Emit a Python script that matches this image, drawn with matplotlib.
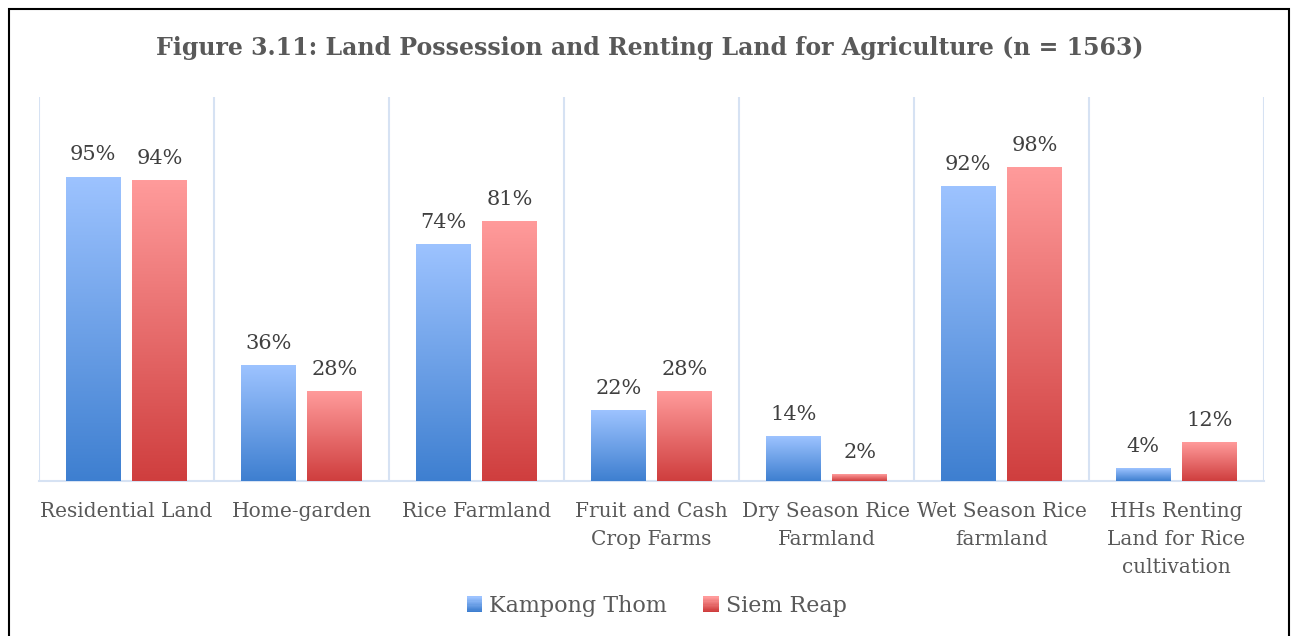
import numpy as np
import matplotlib.pyplot as plt
from matplotlib.patches import Rectangle
from matplotlib.legend_handler import HandlerBase
from matplotlib.colors import LinearSegmentedColormap

categories = ["Residential Land", "Home-garden", "Rice Farmland",
              "Fruit and Cash\nCrop Farms", "Dry Season Rice\nFarmland",
              "Wet Season Rice\nfarmland", "HHs Renting\nLand for Rice\ncultivation"]
kampong_thom = [0.95, 0.36, 0.74, 0.22, 0.14, 0.92, 0.04]
siem_reap = [0.94, 0.28, 0.81, 0.28, 0.02, 0.98, 0.12]
series_names = ["Kampong Thom", "Siem Reap"]

# top colour -> bottom colour
blue_grad = ("#9dc3ff", "#3e7fd0")
red_grad = ("#ff9b9b", "#cf3e3e")

FONT = "DejaVu Serif"
TEXT = "#404040"
GRID = "#d6e2f3"


def gradient_bar(ax, rect, colors):
    cmap = LinearSegmentedColormap.from_list("g", [colors[1], colors[0]])
    x, y = rect.get_x(), rect.get_y()
    w, h = rect.get_width(), rect.get_height()
    grad = np.linspace(0, 1, 256).reshape(-1, 1)
    ax.imshow(grad, cmap=cmap, origin="lower", aspect="auto",
              extent=(x, x + w, y, y + h), zorder=3)
    rect.set_visible(False)


class GradientHandler(HandlerBase):
    def __init__(self, colors):
        super().__init__()
        self.colors = colors

    def create_artists(self, legend, orig_handle, xdescent, ydescent,
                       width, height, fontsize, trans):
        cmap = LinearSegmentedColormap.from_list("g", [self.colors[1], self.colors[0]])
        side = height * 1.0
        x0 = -xdescent + width - side
        y0 = -ydescent
        n = 12
        arts = []
        for i in range(n):
            r = Rectangle((x0, y0 + side * i / n), side, side / n + 0.3,
                          facecolor=cmap(i / (n - 1)), edgecolor="none",
                          transform=trans)
            arts.append(r)
        return arts


fig = plt.figure(figsize=(12.93, 6.36), dpi=100)
ax = fig.add_axes([39 / 1293, 155 / 636, 1225 / 1293, 384 / 636])

x = np.arange(len(categories))
width = 0.314
offset = 0.19
bars1 = ax.bar(x - offset, kampong_thom, width, zorder=3)
bars2 = ax.bar(x + offset, siem_reap, width, zorder=3)
for r in bars1:
    gradient_bar(ax, r, blue_grad)
for r in bars2:
    gradient_bar(ax, r, red_grad)

for bars, vals in ((bars1, kampong_thom), (bars2, siem_reap)):
    for r, v in zip(bars, vals):
        ax.annotate(f"{v * 100:.0f}%", (r.get_x() + r.get_width() / 2, v),
                    xytext=(0, 9), textcoords="offset points",
                    ha="center", va="bottom", fontsize=15, family=FONT,
                    color=TEXT)

ax.set_xlim(-0.5, len(categories) - 0.5)
ax.set_ylim(0, 1.2)
ax.set_yticks([])
ax.set_xticks(x)
ax.set_xticklabels(categories, fontsize=14.5, family=FONT, color="#595959",
                   linespacing=1.6)
ax.tick_params(axis="x", length=0, pad=15)

# category separators
for b in np.arange(-0.5, len(categories), 1.0):
    ax.axvline(b, color=GRID, lw=1.5, zorder=1)
for s in ("top", "right", "left"):
    ax.spines[s].set_visible(False)
ax.spines["bottom"].set_color(GRID)
ax.spines["bottom"].set_linewidth(1.5)

fig.text(650 / 1293, 1 - 48 / 636,
         "Figure 3.11: Land Possession and Renting Land for Agriculture (n = 1563)",
         ha="center", va="center", fontsize=17, fontweight="bold",
         family=FONT, color="#595959")

h1 = Rectangle((0, 0), 1, 1)
h2 = Rectangle((0, 0), 1, 1)
fig.legend([h1, h2], series_names, loc="center",
           bbox_to_anchor=(656 / 1293, 1 - 606 / 636), ncol=2, frameon=False,
           prop={"family": FONT, "size": 16}, labelcolor="#595959",
           handler_map={h1: GradientHandler(blue_grad), h2: GradientHandler(red_grad)},
           handlelength=0.75, handletextpad=0.3, columnspacing=1.6)

# outer border
fig.add_artist(Rectangle((9 / 1293, -0.01), 1280 / 1293, 1 - 9 / 636 + 0.01,
                         transform=fig.transFigure, fill=False,
                         edgecolor="black", lw=1.5))

fig.savefig("out.png", dpi=100)
